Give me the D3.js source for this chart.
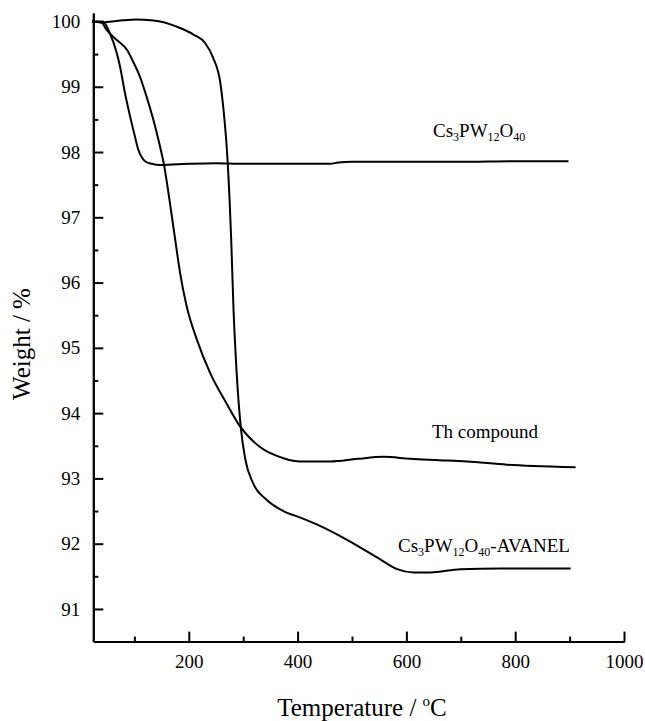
<!DOCTYPE html>
<html>
<head>
<meta charset="utf-8">
<script src="https://cdn.jsdelivr.net/npm/d3@7"></script>
<style>
  body { margin: 0; background: #fff; }
  svg { font-family: "Liberation Serif", "DejaVu Serif", serif; }
  .axis path, .axis line { stroke: #000; stroke-width: 2; }
  .axis text { font-size: 19px; fill: #000; font-family: "Liberation Serif", serif; }
</style>
</head>
<body>
<script>
// TGA curves, temperature (C) vs weight (%)
var pureT = [22, 42, 55, 67.5, 73.6, 82.8, 92, 101, 107, 113.5, 119.6, 132, 147, 170, 200, 250, 300, 350, 400, 441, 460, 475, 500, 600, 700, 800, 898];
var pureW = [100.0, 100.0, 99.82, 99.52, 99.31, 98.9, 98.55, 98.24, 98.04, 97.92, 97.86, 97.82, 97.80, 97.81, 97.82, 97.83, 97.82, 97.82, 97.82, 97.82, 97.82, 97.84, 97.85, 97.85, 97.85, 97.86, 97.86];

var thT = [22, 40, 49, 70, 86, 98, 110, 122, 135, 145, 155, 165, 175, 184, 196, 214.7, 239, 270, 294, 331, 374, 405, 460, 510, 558, 607, 660, 711, 785, 834, 911];
var thW = [100.0, 99.98, 99.87, 99.70, 99.57, 99.38, 99.16, 98.86, 98.49, 98.16, 97.78, 97.24, 96.66, 96.15, 95.64, 95.13, 94.62, 94.14, 93.80, 93.48, 93.31, 93.26, 93.26, 93.30, 93.33, 93.30, 93.28, 93.26, 93.21, 93.19, 93.17];

var avT = [22, 46, 80, 104, 130, 147, 165, 184, 208.5, 230, 245, 258, 265, 270, 275, 278, 282, 288, 296, 304, 318, 343.5, 374, 405, 442, 491, 552, 583, 613, 644, 699, 773, 902];
var avW = [100.0, 99.99, 100.02, 100.03, 100.02, 100.0, 99.96, 99.90, 99.80, 99.67, 99.44, 99.06, 98.55, 98.04, 97.27, 96.66, 95.64, 94.62, 93.75, 93.29, 92.93, 92.67, 92.50, 92.40, 92.27, 92.06, 91.76, 91.61, 91.56, 91.56, 91.61, 91.62, 91.62];

var xMajor = [200, 400, 600, 800, 1000];
var xMinor = [100, 300, 500, 700, 900];
var yMajor = [91, 92, 93, 94, 95, 96, 97, 98, 99, 100];
var yMinor = [91.5, 92.5, 93.5, 94.5, 95.5, 96.5, 97.5, 98.5, 99.5];

var width = 645, height = 721;

var xScale = d3.scaleLinear().domain([24.5, 1000]).range([93.3, 624]);
var yScale = d3.scaleLinear().domain([90.5, 100.13]).range([641.6, 13]);

var svg = d3.select("body").append("svg")
    .attr("width", width)
    .attr("height", height);

// minor ticks first
svg.append("g")
    .attr("class", "axis")
    .attr("transform", "translate(0," + yScale(90.5) + ")")
    .call(d3.axisBottom(xScale).tickValues(xMinor).tickSize(-5).tickSizeOuter(0).tickFormat(""));

svg.append("g")
    .attr("class", "axis")
    .attr("transform", "translate(" + xScale(24.5) + ",0)")
    .call(d3.axisLeft(yScale).tickValues(yMinor).tickSize(-5).tickSizeOuter(0).tickFormat(""));

// major ticks with labels
svg.append("g")
    .attr("class", "axis")
    .attr("transform", "translate(0," + yScale(90.5) + ")")
    .call(d3.axisBottom(xScale).tickValues(xMajor).tickSizeInner(-10).tickSizeOuter(0).tickPadding(13).tickFormat(d3.format("d")));

svg.append("g")
    .attr("class", "axis")
    .attr("transform", "translate(" + xScale(24.5) + ",0)")
    .call(d3.axisLeft(yScale).tickValues(yMajor).tickSizeInner(-10).tickSizeOuter(0).tickPadding(13).tickFormat(d3.format("d")));

// curves
var line = d3.line()
    .x(function(d) { return xScale(d[0]); })
    .y(function(d) { return yScale(d[1]); })
    .curve(d3.curveMonotoneX);

[[pureT, pureW], [thT, thW], [avT, avW]].forEach(function(s) {
    svg.append("path")
        .datum(d3.zip(s[0], s[1]))
        .attr("fill", "none")
        .attr("stroke", "#000")
        .attr("stroke-width", 2)
        .attr("d", line);
});

// curve labels
function formula(x, y, tail) {
    var t = svg.append("text")
        .attr("x", x)
        .attr("y", y)
        .style("font-size", "19px");
    t.append("tspan").text("Cs");
    t.append("tspan").attr("dy", 4).style("font-size", "12px").text("3");
    t.append("tspan").attr("dy", -4).text("PW");
    t.append("tspan").attr("dy", 4).style("font-size", "12px").text("12");
    t.append("tspan").attr("dy", -4).text("O");
    t.append("tspan").attr("dy", 4).style("font-size", "12px").text("40");
    if (tail) t.append("tspan").attr("dy", -4).text(tail);
}

formula(433, 137);
formula(398, 552, "-AVANEL");

svg.append("text")
    .attr("x", 432)
    .attr("y", 438)
    .style("font-size", "19px")
    .text("Th compound");

// axis titles
var xt = svg.append("text")
    .attr("x", 362)
    .attr("y", 716)
    .attr("text-anchor", "middle")
    .style("font-size", "25px");
xt.append("tspan").text("Temperature / ");
xt.append("tspan").attr("dy", -10).style("font-size", "15px").text("o");
xt.append("tspan").attr("dy", 10).text("C");

svg.append("text")
    .attr("transform", "translate(30,344) rotate(-90)")
    .attr("text-anchor", "middle")
    .style("font-size", "25px")
    .text("Weight / %");
</script>
</body>
</html>
